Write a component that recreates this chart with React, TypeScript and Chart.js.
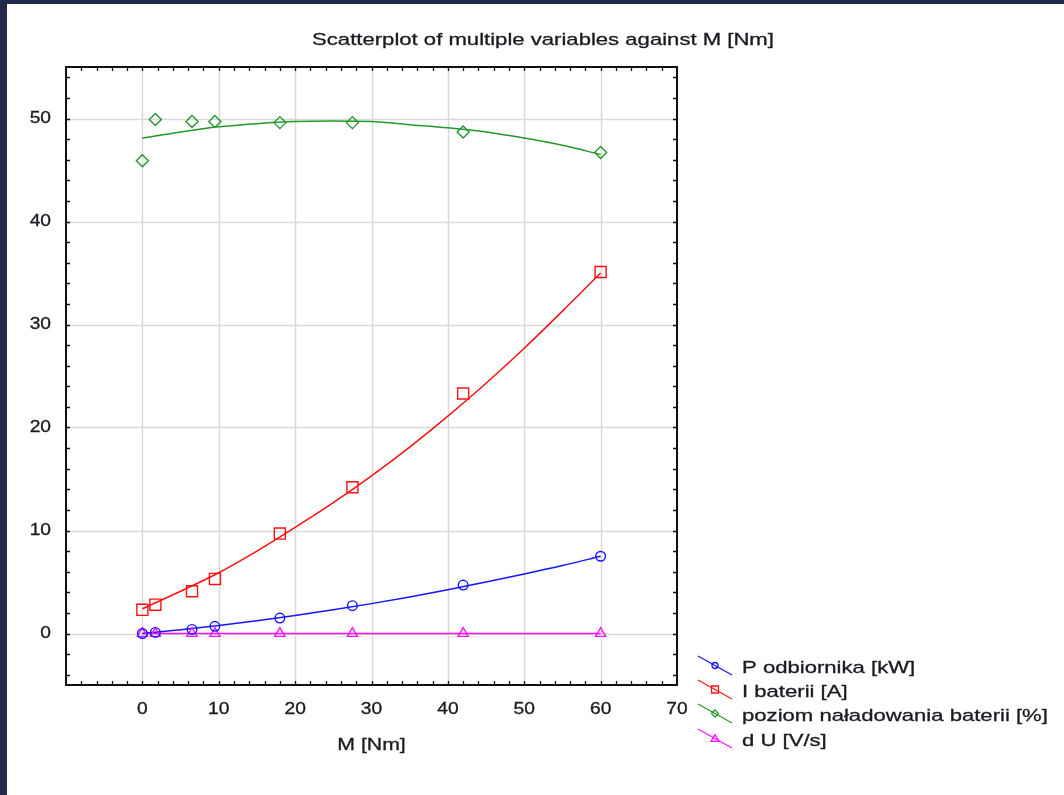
import React, { useEffect, useRef } from 'react';
import { Chart, registerables } from 'chart.js';

Chart.register(...registerables);

// ---- data ----
const M = [0, 1.7, 6.5, 9.5, 18, 27.5, 42, 60];
const pOdbiornika = [0, 0.1, 0.4, 0.7, 1.5, 2.7, 4.7, 7.5];
const iBaterii = [2.3, 2.8, 4.1, 5.3, 9.7, 14.2, 23.3, 35.1];
const poziom = [45.9, 49.9, 49.7, 49.7, 49.6, 49.6, 48.7, 46.7];
const dU = [0, 0, 0, 0, 0, 0, 0, 0];

// fitted curves as drawn in the reference (read at these M values)
const fitM = [0, 5, 10, 15, 20, 25, 30, 35, 40, 45, 50, 55, 60];
const pFit = [0.0, 0.36, 0.78, 1.24, 1.74, 2.3, 2.9, 3.55, 4.24, 5.0, 5.78, 6.6, 7.5];
const iFit = [2.4, 4.1, 5.9, 8.0, 10.3, 12.7, 15.3, 18.1, 21.1, 24.3, 27.7, 31.3, 35.0];
const poziomFit = [48.1, 48.7, 49.2, 49.5, 49.7, 49.75, 49.7, 49.4, 49.1, 48.7, 48.1, 47.4, 46.5];
const dUFit = [0, 0, 0, 0, 0, 0, 0, 0, 0, 0, 0, 0, 0];

const seriesLabels = ['P odbiornika [kW]', 'I baterii [A]', 'poziom naładowania baterii [%]', 'd U [V/s]'];
const seriesColors = ['#1515ff', '#ff1010', '#23982a', '#ff10ff'];
const seriesStyles = ['circle', 'rect', 'rectRot', 'triangle'];
const seriesRadius = [4.8, 7.8, 6, 5.8];

const xTickLabels = [0, 10, 20, 30, 40, 50, 60, 70];
const yTickLabels = [0, 10, 20, 30, 40, 50];
const xMinorTicks = [-8, -6, -4, -2, 0, 2, 4, 6, 8, 10, 12, 14, 16, 18, 20, 22, 24, 26, 28, 30, 32, 34, 36, 38, 40, 42, 44, 46, 48, 50, 52, 54, 56, 58, 60, 62, 64, 66, 68];
const yMinorTicks = [-4, -2, 0, 2, 4, 6, 8, 10, 12, 14, 16, 18, 20, 22, 24, 26, 28, 30, 32, 34, 36, 38, 40, 42, 44, 46, 48, 50, 52, 54];

const titleText = 'Scatterplot of multiple variables against M [Nm]';
const xTitleText = 'M [Nm]';

const FONT = '"Liberation Sans", Arial, sans-serif';
const TEXT_COLOR = '#1a1a22';

function drawText(ctx: CanvasRenderingContext2D, s: string, x: number, y: number, size: number, sx: number, align: 'left' | 'center' | 'right') {
  ctx.save();
  ctx.font = `${size}px ${FONT}`;
  ctx.textBaseline = 'middle';
  ctx.textAlign = 'left';
  ctx.fillStyle = TEXT_COLOR;
  ctx.strokeStyle = TEXT_COLOR;
  ctx.lineWidth = 0.3;
  const w = ctx.measureText(s).width * sx;
  const x0 = align === 'center' ? x - w / 2 : align === 'right' ? x - w : x;
  ctx.translate(x0, y);
  ctx.scale(sx, 1);
  ctx.fillText(s, 0, 0);
  ctx.strokeText(s, 0, 0);
  ctx.restore();
}

function drawMarker(ctx: CanvasRenderingContext2D, style: string, x: number, y: number, r: number, color: string) {
  ctx.save();
  ctx.strokeStyle = color;
  ctx.lineWidth = 1.3;
  ctx.beginPath();
  if (style === 'circle') {
    ctx.arc(x, y, r, 0, Math.PI * 2);
  } else if (style === 'rect') {
    ctx.rect(x - r, y - r, 2 * r, 2 * r);
  } else if (style === 'rectRot') {
    ctx.moveTo(x, y - r);
    ctx.lineTo(x + r, y);
    ctx.lineTo(x, y + r);
    ctx.lineTo(x - r, y);
    ctx.closePath();
  } else {
    ctx.moveTo(x, y - r);
    ctx.lineTo(x + r, y + r * 0.7);
    ctx.lineTo(x - r, y + r * 0.7);
    ctx.closePath();
  }
  ctx.stroke();
  ctx.restore();
}

const framePlugin = {
  id: 'statFrame',
  beforeDatasetsDraw(chart: any) {
    const { ctx, chartArea: a, scales } = chart;
    const xs = scales.x;
    const ys = scales.y;
    ctx.save();
    ctx.strokeStyle = '#d9d9d9';
    ctx.lineWidth = 1.5;
    xTickLabels.forEach((v) => {
      const px = Math.round(xs.getPixelForValue(v)) + 0.5;
      ctx.beginPath();
      ctx.moveTo(px, a.top);
      ctx.lineTo(px, a.bottom);
      ctx.stroke();
    });
    yTickLabels.forEach((v) => {
      const py = Math.round(ys.getPixelForValue(v)) + 0.5;
      ctx.beginPath();
      ctx.moveTo(a.left, py);
      ctx.lineTo(a.right, py);
      ctx.stroke();
    });
    ctx.restore();
  },
  afterDraw(chart: any) {
    const { ctx, chartArea: a, scales } = chart;
    const xs = scales.x;
    const ys = scales.y;
    ctx.save();
    ctx.strokeStyle = '#111';
    ctx.lineWidth = 2;
    ctx.strokeRect(a.left, a.top, a.right - a.left, a.bottom - a.top);
    ctx.lineWidth = 1.3;
    const tl = 4;
    xMinorTicks.forEach((v) => {
      const px = Math.round(xs.getPixelForValue(v)) + 0.5;
      ctx.beginPath();
      ctx.moveTo(px, a.bottom);
      ctx.lineTo(px, a.bottom - tl);
      ctx.moveTo(px, a.top);
      ctx.lineTo(px, a.top + tl);
      ctx.stroke();
    });
    yMinorTicks.forEach((v) => {
      const py = Math.round(ys.getPixelForValue(v)) + 0.5;
      ctx.beginPath();
      ctx.moveTo(a.left, py);
      ctx.lineTo(a.left + tl, py);
      ctx.moveTo(a.right, py);
      ctx.lineTo(a.right - tl, py);
      ctx.stroke();
    });
    ctx.restore();

    xTickLabels.forEach((v) => {
      drawText(ctx, String(v), xs.getPixelForValue(v), a.bottom + 25, 16, 1.2, 'center');
    });
    yTickLabels.forEach((v) => {
      drawText(ctx, String(v), a.left - 15, ys.getPixelForValue(v), 16, 1.2, 'right');
    });
    drawText(ctx, xTitleText, (a.left + a.right) / 2, a.bottom + 60, 17, 1.25, 'center');
    drawText(ctx, titleText, 543, 40, 17, 1.3, 'center');

    const rows = [668, 692, 716, 741];
    seriesLabels.forEach((lab, i) => {
      const y = rows[i];
      const c = seriesColors[i];
      ctx.save();
      ctx.strokeStyle = c;
      ctx.lineWidth = 1.2;
      ctx.beginPath();
      ctx.moveTo(698, y - 12);
      ctx.lineTo(732, y + 7);
      ctx.stroke();
      ctx.restore();
      const rr = [3, 3.5, 3.5, 4][i];
      drawMarker(ctx, seriesStyles[i], 715, y - 2.5, rr, c);
      drawText(ctx, lab, 742, y, 17, 1.3, 'left');
    });
  },
};

export default function App() {
  const ref = useRef<HTMLCanvasElement | null>(null);

  useEffect(() => {
    if (!ref.current) return;
    const pointSets = [pOdbiornika, iBaterii, poziom, dU];
    const fitSets = [pFit, iFit, poziomFit, dUFit];
    const datasets: any[] = [];
    pointSets.forEach((vals, i) => {
      datasets.push({
        label: seriesLabels[i],
        data: M.map((m, k) => ({ x: m, y: vals[k] })),
        showLine: false,
        pointStyle: seriesStyles[i],
        pointRadius: seriesRadius[i],
        pointBorderColor: seriesColors[i],
        pointBackgroundColor: 'rgba(0,0,0,0)',
        pointBorderWidth: 1.4,
        borderColor: seriesColors[i],
      });
    });
    fitSets.forEach((vals, i) => {
      datasets.push({
        label: seriesLabels[i] + ' fit',
        data: fitM.map((m, k) => ({ x: m, y: vals[k] })),
        showLine: true,
        pointRadius: 0,
        borderColor: seriesColors[i],
        borderWidth: 1.5,
        cubicInterpolationMode: 'monotone',
        fill: false,
      });
    });

    const chart = new Chart(ref.current, {
      type: 'scatter',
      data: { datasets },
      options: {
        animation: false,
        responsive: false,
        layout: { padding: { left: 66, top: 67, right: 1064 - 677, bottom: 795 - 685 } },
        plugins: { legend: { display: false }, title: { display: false }, tooltip: { enabled: false } },
        scales: {
          x: { type: 'linear', min: -10, max: 70, display: false },
          y: { type: 'linear', min: -5, max: 55, display: false },
        },
      },
      plugins: [framePlugin],
    });
    return () => chart.destroy();
  }, []);

  return (
    <div style={{ position: 'fixed', left: 0, top: 0, width: 1064, height: 795, background: '#1f2b48', overflow: 'hidden' }}>
      <div style={{ position: 'absolute', left: 7, top: 4, right: 0, bottom: 0, background: '#ffffff' }} />
      <canvas ref={ref} width={1064} height={795} style={{ position: 'absolute', left: 0, top: 0, width: 1064, height: 795 }} />
    </div>
  );
}
